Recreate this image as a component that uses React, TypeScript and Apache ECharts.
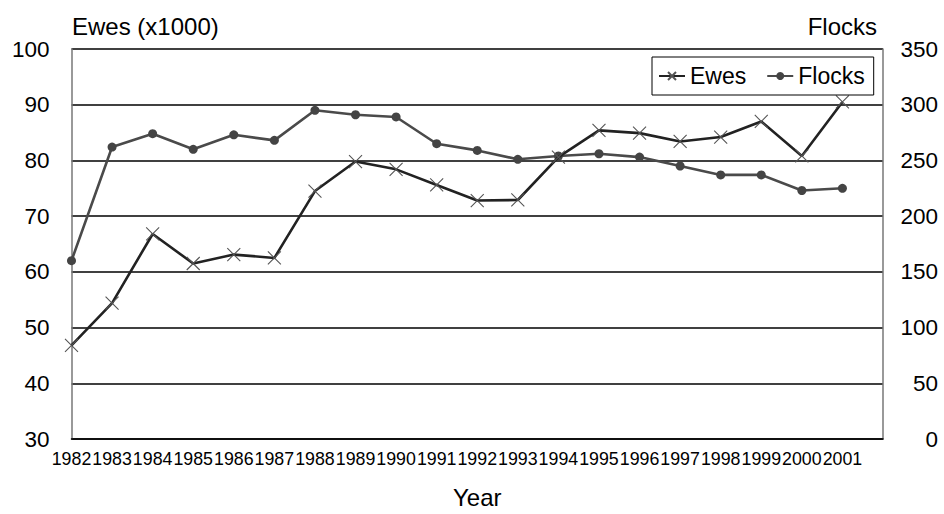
import React, { useEffect, useRef } from "react";
import * as echarts from "echarts";

const years = ["1982","1983","1984","1985","1986","1987","1988","1989","1990","1991","1992","1993","1994","1995","1996","1997","1998","1999","2000","2001"];
const ewes = [46.8, 54.4, 66.8, 61.5, 63.1, 62.5, 74.5, 79.8, 78.4, 75.6, 72.8, 72.9, 80.6, 85.4, 84.9, 83.4, 84.2, 87.0, 80.8, 90.5];
const flocks = [160, 262, 274, 260, 273, 268, 295, 291, 289, 265, 259, 251, 254, 256, 253, 245, 237, 237, 223, 225];

const FONT = "Liberation Sans";

export default function App() {
  const ref = useRef<HTMLDivElement>(null);
  useEffect(() => {
    if (!ref.current) return;
    const chart = echarts.init(ref.current, undefined, { renderer: "svg" });
    chart.setOption({
      animation: false,
      backgroundColor: "#fff",
      textStyle: { fontFamily: FONT },
      grid: { left: 71.5, right: 61, top: 49, bottom: 70, containLabel: false },
      legend: {
        left: 652,
        top: 57,
        itemWidth: 26,
        itemHeight: 10,
        itemGap: 20,
        padding: [7, 9, 7, 6],
        borderColor: "#000",
        borderWidth: 1,
        textStyle: { fontSize: 23, color: "#000", fontFamily: FONT, lineHeight: 24 },
        data: ["Ewes", "Flocks"],
      },
      graphic: [
        { type: "text", left: 72, top: 14, style: { text: "Ewes (x1000)", font: `24px "${FONT}"`, fill: "#000" } },
        { type: "text", right: 67, top: 14, style: { text: "Flocks", font: `24px "${FONT}"`, fill: "#000" } },
      ],
      xAxis: {
        type: "category",
        data: [...years, ""],
        boundaryGap: false,
        name: "Year",
        nameLocation: "middle",
        nameGap: 46,
        nameTextStyle: { fontSize: 24, color: "#000", fontFamily: FONT },
        axisLine: { lineStyle: { color: "#000", width: 1.5 } },
        axisTick: { show: false },
        axisLabel: { interval: 0, fontSize: 17.8, color: "#000", margin: 11, fontFamily: FONT },
        splitLine: { show: false },
      },
      yAxis: [
        {
          type: "value",
          min: 30,
          max: 100,
          interval: 10,
          axisLine: { show: true, lineStyle: { color: "#777", width: 1.5 } },
          axisTick: { show: false },
          axisLabel: { fontSize: 22.5, color: "#000", margin: 22, fontFamily: FONT },
          splitLine: { show: true, lineStyle: { color: "#000", width: 1.5 } },
        },
        {
          type: "value",
          min: 0,
          max: 350,
          interval: 50,
          position: "right",
          axisLine: { show: true, lineStyle: { color: "#777", width: 1.5 } },
          axisTick: { show: false },
          axisLabel: { fontSize: 22.5, color: "#000", margin: 55, align: "right", fontFamily: FONT },
          splitLine: { show: false },
        },
      ],
      series: [
        {
          name: "Ewes",
          type: "line",
          yAxisIndex: 0,
          data: ewes,
          symbol: "path://M0,0L12,12M12,0L0,12",
          symbolSize: 13,
          itemStyle: { color: "#222", borderColor: "#555", borderWidth: 1.1 },
          lineStyle: { color: "#222", width: 2.6 },
          z: 3,
        },
        {
          name: "Flocks",
          type: "line",
          yAxisIndex: 1,
          data: flocks,
          symbol: "circle",
          symbolSize: 9,
          itemStyle: { color: "#444", borderWidth: 0 },
          lineStyle: { color: "#4a4a4a", width: 2.6 },
          z: 2,
        },
      ],
    });
    return () => chart.dispose();
  }, []);
  return <div ref={ref} style={{ position: "fixed", left: 0, top: 0, width: 944, height: 514 }} />;
}
